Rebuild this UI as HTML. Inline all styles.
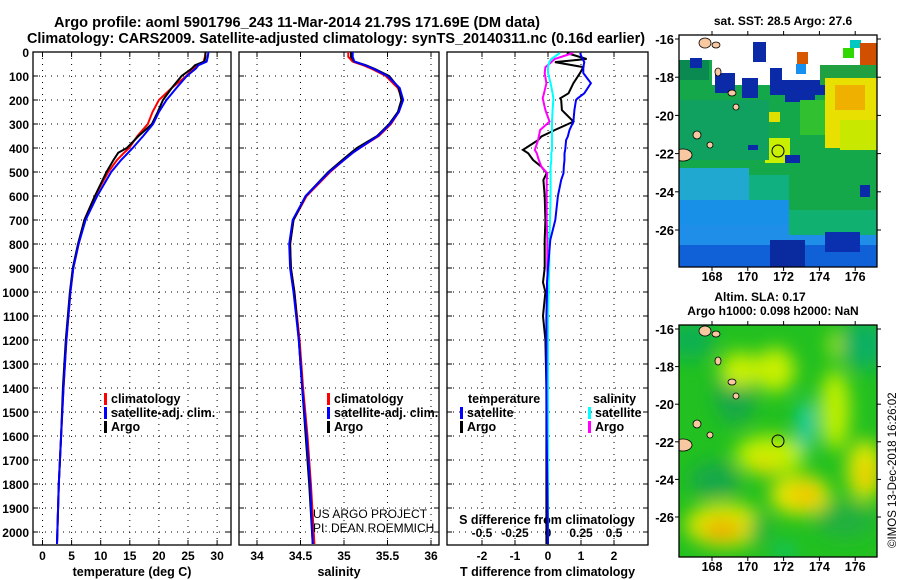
<!DOCTYPE html>
<html><head><meta charset="utf-8"><style>
body{margin:0;background:#fff}
svg{display:block;font-family:"Liberation Sans",sans-serif;font-weight:bold}
</style></head><body>
<svg id="chart" width="900" height="580" viewBox="0 0 900 580" xmlns="http://www.w3.org/2000/svg">
<defs>
<filter id="blur" x="-20%" y="-20%" width="140%" height="140%"><feGaussianBlur stdDeviation="9"/></filter>
<clipPath id="clipTop"><rect x="679" y="35" width="198" height="232"/></clipPath>
<clipPath id="clipBot"><rect x="679" y="325" width="198" height="232"/></clipPath>
<clipPath id="clipP1"><rect x="33" y="52" width="198" height="493"/></clipPath>
<clipPath id="clipP2"><rect x="239" y="52" width="200" height="493"/></clipPath>
<clipPath id="clipP3"><rect x="447" y="52" width="201" height="493"/></clipPath>
</defs>
<text x="54" y="27" font-size="14.5" textLength="486" lengthAdjust="spacingAndGlyphs">Argo profile: aoml 5901796_243 11-Mar-2014 21.79S 171.69E (DM data)</text>
<text x="27" y="43" font-size="14.5" textLength="618" lengthAdjust="spacingAndGlyphs">Climatology: CARS2009. Satellite-adjusted climatology: synTS_20140311.nc (0.16d earlier)</text>

<g id="maps">
<g clip-path="url(#clipTop)">
<rect x="679" y="35" width="198" height="232" fill="#14a84a"/>
<rect x="679" y="35" width="198" height="25" fill="#fff"/>
<rect x="712" y="35" width="165" height="50" fill="#fff"/>
<rect x="740" y="75" width="90" height="10" fill="#fff"/>
<rect x="679" y="60" width="30" height="20" fill="#0a8a50"/>
<rect x="690" y="58" width="12" height="10" fill="#0a2aa8"/>
<rect x="715" y="73" width="20" height="20" fill="#0a2aa8"/>
<rect x="742" y="78" width="16" height="20" fill="#0a2aa8"/>
<rect x="770" y="68" width="12" height="16" fill="#0a2aa8"/>
<rect x="770" y="80" width="65" height="15" fill="#0a2aa8"/>
<rect x="785" y="92" width="30" height="10" fill="#0a2aa8"/>
<rect x="753" y="42" width="13" height="20" fill="#0a2aa8"/>
<rect x="797" y="52" width="11" height="12" fill="#d85800"/>
<rect x="796" y="64" width="10" height="10" fill="#1890f0"/>
<rect x="843" y="48" width="11" height="10" fill="#30d800"/>
<rect x="850" y="40" width="11" height="8" fill="#00c8c0"/>
<rect x="860" y="43" width="17" height="25" fill="#d05000"/>
<rect x="820" y="65" width="57" height="20" fill="#20a040"/>
<rect x="825" y="78" width="52" height="70" fill="#e8e000"/>
<rect x="835" y="85" width="30" height="25" fill="#f0b000"/>
<rect x="840" y="120" width="37" height="30" fill="#c8e800"/>
<rect x="800" y="100" width="25" height="35" fill="#30c030"/>
<rect x="765" y="138" width="25" height="25" fill="#c8f000"/>
<rect x="765" y="112" width="15" height="10" fill="#e0e000"/>
<rect x="679" y="100" width="90" height="60" fill="#10a060"/>
<rect x="679" y="168" width="70" height="99" fill="#20a8d0"/>
<rect x="749" y="175" width="40" height="50" fill="#10b080"/>
<rect x="679" y="200" width="110" height="67" fill="#1890e8"/>
<rect x="679" y="225" width="198" height="42" fill="#1e8ee8"/>
<rect x="789" y="210" width="88" height="25" fill="#10b070"/>
<rect x="679" y="245" width="198" height="22" fill="#1060d8"/>
<rect x="770" y="240" width="35" height="27" fill="#0a2aa0"/>
<rect x="825" y="232" width="35" height="20" fill="#0a30b0"/>
<rect x="860" y="185" width="10" height="12" fill="#0a2aa8"/>
<rect x="748" y="145" width="10" height="5" fill="#0a2aa8"/>
<rect x="785" y="155" width="15" height="8" fill="#0a2aa8"/>
<ellipse cx="705" cy="43" rx="6" ry="5" fill="#f8c8a0" stroke="#000" stroke-width="0.8"/>
<ellipse cx="716" cy="45" rx="4" ry="3" fill="#f8c8a0" stroke="#000" stroke-width="0.8"/>
<ellipse cx="718" cy="72" rx="3" ry="4" fill="#f8c8a0" stroke="#000" stroke-width="0.8"/>
<ellipse cx="732" cy="93" rx="4" ry="3" fill="#f8c8a0" stroke="#000" stroke-width="0.8"/>
<ellipse cx="736" cy="107" rx="3" ry="3" fill="#f8c8a0" stroke="#000" stroke-width="0.8"/>
<ellipse cx="697" cy="135" rx="4" ry="4" fill="#f8c8a0" stroke="#000" stroke-width="0.8"/>
<ellipse cx="710" cy="145" rx="3" ry="3" fill="#f8c8a0" stroke="#000" stroke-width="0.8"/>
<ellipse cx="683" cy="155" rx="9" ry="6" fill="#f8c8a0" stroke="#000" stroke-width="0.8"/>
<circle cx="778" cy="151" r="6" fill="none" stroke="#000" stroke-width="1"/>
</g>
<rect x="679" y="35" width="198" height="232" fill="none" stroke="#000" stroke-width="1.3"/>
<text x="783" y="25" font-size="12" text-anchor="middle">sat. SST: 28.5 Argo: 27.6</text>

<g clip-path="url(#clipBot)">
<rect x="679" y="325" width="198" height="232" fill="#22c020"/>
<g filter="url(#blur)">
<ellipse cx="690" cy="340" rx="25" ry="20" fill="#10b050"/>
<ellipse cx="865" cy="345" rx="25" ry="25" fill="#10b060"/>
<ellipse cx="735" cy="395" rx="20" ry="30" fill="#18a848"/>
<ellipse cx="740" cy="370" rx="20" ry="18" fill="#c8f000"/>
<ellipse cx="775" cy="370" rx="20" ry="22" fill="#c8f000"/>
<ellipse cx="835" cy="410" rx="15" ry="40" fill="#c0f000"/>
<ellipse cx="835" cy="345" rx="6" ry="15" fill="#b0e800"/>
<ellipse cx="806" cy="425" rx="7" ry="25" fill="#10d0d0"/>
<ellipse cx="770" cy="455" rx="35" ry="20" fill="#c0f000"/>
<ellipse cx="765" cy="465" rx="15" ry="10" fill="#e0e000"/>
<ellipse cx="800" cy="495" rx="30" ry="20" fill="#e8e800"/>
<ellipse cx="805" cy="495" rx="15" ry="10" fill="#f0c000"/>
<ellipse cx="865" cy="470" rx="18" ry="30" fill="#e0e800"/>
<ellipse cx="867" cy="475" rx="8" ry="12" fill="#f0c000"/>
<ellipse cx="725" cy="525" rx="40" ry="22" fill="#d8e800"/>
<ellipse cx="722" cy="530" rx="20" ry="10" fill="#f0a800"/>
<ellipse cx="715" cy="480" rx="25" ry="18" fill="#18a848"/>
<ellipse cx="760" cy="530" rx="10" ry="15" fill="#20b040"/>
<ellipse cx="845" cy="520" rx="30" ry="18" fill="#20b040"/>
<ellipse cx="785" cy="552" rx="8" ry="6" fill="#10c8b0"/>
</g>
<ellipse cx="705" cy="331" rx="6" ry="5" fill="#f8c8a0" stroke="#000" stroke-width="0.8"/>
<ellipse cx="716" cy="334" rx="4" ry="3" fill="#f8c8a0" stroke="#000" stroke-width="0.8"/>
<ellipse cx="718" cy="361" rx="3" ry="4" fill="#f8c8a0" stroke="#000" stroke-width="0.8"/>
<ellipse cx="732" cy="382" rx="4" ry="3" fill="#f8c8a0" stroke="#000" stroke-width="0.8"/>
<ellipse cx="736" cy="396" rx="3" ry="3" fill="#f8c8a0" stroke="#000" stroke-width="0.8"/>
<ellipse cx="697" cy="424" rx="4" ry="4" fill="#f8c8a0" stroke="#000" stroke-width="0.8"/>
<ellipse cx="710" cy="435" rx="3" ry="3" fill="#f8c8a0" stroke="#000" stroke-width="0.8"/>
<ellipse cx="683" cy="445" rx="9" ry="6" fill="#f8c8a0" stroke="#000" stroke-width="0.8"/>
<circle cx="778" cy="441" r="6" fill="none" stroke="#000" stroke-width="1"/>
</g>
<rect x="679" y="325" width="198" height="232" fill="none" stroke="#000" stroke-width="1.3"/>
<text x="760" y="301" font-size="12" text-anchor="middle">Altim. SLA: 0.17</text>
<text x="773" y="315" font-size="12" text-anchor="middle">Argo h1000: 0.098 h2000: NaN</text>
<text transform="translate(896,548) rotate(-90)" font-size="11.5" font-weight="normal">©IMOS 13-Dec-2018 16:26:02</text>
</g>
<g id="dyn"></g>
</svg>
<script>
// ---------- data ----------
const depthTicks=[0,100,200,300,400,500,600,700,800,900,1000,1100,1200,1300,1400,1500,1600,1700,1800,1900,2000];
const tempTicks=[0,5,10,15,20,25,30];
const salTicks=[34,34.5,35,35.5,36];
const tdiffTicks=[-2,-1,0,1,2];
const sdiffTicks=[-0.5,-0.25,0,0.25,0.5];
const sdiffTickLabels=["-0.5","-0.25","0","0.25","0.5"];
const latTicks=[-16,-18,-20,-22,-24,-26];
const lonTicks=[168,170,172,174,176];

const profDepth=[0,20,40,55,70,100,150,200,250,300,350,400,420,450,500,600,700,800,900,1000,1200,1400,1600,1800,2050];
const argoTemp=[28.0,28.0,27.8,26.2,25.6,23.9,22.2,20.7,19.8,18.8,16.5,14.5,13.0,12.2,11.0,9.0,7.2,6.1,5.2,4.7,4.0,3.5,3.2,2.8,2.5];
const climTemp=[28.0,27.9,27.7,26.5,25.9,24.7,22.2,20.0,18.9,18.1,16.3,14.9,14.0,12.8,11.3,9.0,7.2,6.2,5.3,4.8,4.1,3.6,3.2,2.8,2.5];
const satTemp=[28.5,28.4,28.2,26.8,26.3,24.8,23.0,21.3,20.0,19.0,17.3,15.5,14.7,13.5,11.8,9.4,7.4,6.2,5.3,4.8,4.1,3.6,3.2,2.8,2.5];
const argoSal=[35.08,35.08,35.12,35.25,35.35,35.52,35.63,35.66,35.62,35.52,35.38,35.15,35.08,34.98,34.82,34.56,34.42,34.38,34.39,34.43,34.48,34.52,34.56,34.60,34.64];
const climSal=[35.05,35.05,35.10,35.22,35.32,35.48,35.62,35.67,35.63,35.54,35.40,35.18,35.10,35.00,34.84,34.57,34.42,34.38,34.39,34.43,34.49,34.53,34.58,34.62,34.66];
const satSal=[35.10,35.10,35.12,35.24,35.34,35.50,35.64,35.68,35.63,35.53,35.39,35.18,35.10,35.00,34.83,34.56,34.41,34.37,34.38,34.42,34.48,34.52,34.57,34.61,34.64];

const diffDepth=[4,29,42,63,88,130,172,193,200,242,290,325,352,367,408,422,450,478,505,533,600,700,783,900,960,1000,1100,1200,1400,1600,1800,2050];
const satTdiff=[0.97,1.05,1.1,1.07,1.07,1.3,1.1,0.9,0.85,0.8,0.77,0.65,0.6,0.55,0.52,0.5,0.5,0.48,0.47,0.4,0.3,0.22,0.07,0.0,-0.03,-0.03,-0.05,-0.05,-0.05,-0.04,-0.02,0.0];
const argoTdiff=[0.57,1.17,0.21,1.07,0.97,0.77,0.62,0.37,0.40,0.42,0.77,0.21,-0.2,-0.3,-0.76,-0.6,-0.45,-0.2,-0.04,-0.14,-0.1,-0.08,-0.1,-0.1,-0.15,-0.08,-0.15,-0.08,-0.05,-0.05,-0.05,-0.05];
const satSdiff=[0.09,0.025,0.01,0.0,0.0,0.02,0.035,0.04,0.04,0.035,0.03,0.03,0.03,0.03,0.03,0.025,0.025,0.02,0.02,0.02,0.02,0.015,0.01,0.01,0.005,0.005,0.0,0.0,0.0,0.0,0.0,0.0];
const argoSdiff=[0.19,0.05,0.025,-0.02,-0.025,-0.012,-0.03,-0.04,-0.037,-0.02,0.012,-0.06,-0.07,-0.075,-0.1,-0.085,-0.07,-0.05,-0.005,-0.01,-0.01,-0.01,-0.005,-0.005,0.0,0.0,0.0,0.0,0.0,0.0,0.0,0.0];

// ---------- scales ----------
const yD=d=>52+d*0.24;
const xT=t=>42.5+t*5.82;
const xS=s=>257+(s-34)*87;
const xTD=v=>548+v*33;
const xSD=v=>548+v*132;
const NS='http://www.w3.org/2000/svg';
const root=document.getElementById('dyn');
function mk(tag,attrs,parent){const e=document.createElementNS(NS,tag);for(const k in attrs)e.setAttribute(k,attrs[k]);(parent||root).appendChild(e);return e;}

const panels=[
 {x0:33,x1:231,ticks:tempTicks,sx:xT,labels:tempTicks.map(String),title:'temperature (deg C)',name:'temperature-panel'},
 {x0:239,x1:439,ticks:salTicks,sx:xS,labels:salTicks.map(String),title:'salinity',name:'salinity-panel'},
 {x0:447,x1:648,ticks:tdiffTicks,sx:xTD,labels:tdiffTicks.map(String),title:'T difference from climatology',name:'difference-panel'}
];
const yTop=52,yBot=545;
panels.forEach((p,i)=>{
  const g=mk('g',{});
  
  
  p.ticks.forEach((t,j)=>{
    const x=p.sx(t);
    const gl=mk('line',{x1:x,x2:x,y1:yTop,y2:yBot,stroke:'#000','stroke-width':1,'stroke-dasharray':'1 5'},g);
    
    
    mk('line',{x1:x,x2:x,y1:yTop,y2:yTop+5,stroke:'#000'},g);
    mk('line',{x1:x,x2:x,y1:yBot,y2:yBot-5,stroke:'#000'},g);
    const tl=mk('text',{x:x,y:560,'font-size':12,'text-anchor':'middle'},g);
    tl.textContent=p.labels[j];
    
    
  });
  depthTicks.forEach(d=>{
    const y=yD(d);
    const gl=mk('line',{x1:p.x0,x2:p.x1,y1:y,y2:y,stroke:'#000','stroke-width':1,'stroke-dasharray':'1 5'},g);
    
    
    mk('line',{x1:p.x0,x2:p.x0+5,y1:y,y2:y,stroke:'#000'},g);
    mk('line',{x1:p.x1,x2:p.x1-5,y1:y,y2:y,stroke:'#000'},g);
  });
  const fr=mk('rect',{x:p.x0,y:yTop,width:p.x1-p.x0,height:yBot-yTop,fill:'none',stroke:'#000','stroke-width':1.3},g);
  
  
  const tt=mk('text',{x:(p.x0+p.x1)/2,y:576,'font-size':12.5,'text-anchor':'middle'},g);
  tt.textContent=p.title;
  
  
});
depthTicks.forEach(d=>{
  const t=mk('text',{x:29,y:yD(d)+5,'font-size':12,'text-anchor':'end'});
  t.textContent=String(d);
  
  
});
sdiffTicks.forEach((v,j)=>{
  const t=mk('text',{x:xSD(v),y:537,'font-size':12,'text-anchor':'middle'});
  t.textContent=sdiffTickLabels[j];
  
  
});
{const t=mk('text',{x:547,y:524,'font-size':12.5,'text-anchor':'middle'});t.textContent='S difference from climatology';

}

function line(xs,ys,sx,color,w,clip,name){
  const pts=xs.map((v,i)=>sx(v).toFixed(1)+','+yD(ys[i]).toFixed(1)).join(' ');
  const e=mk('polyline',{points:pts,fill:'none',stroke:color,'stroke-width':w,'clip-path':clip,'stroke-linejoin':'miter'});
  
  
}
line(climTemp,profDepth,xT,'#f00',2,'url(#clipP1)','temp-climatology-line');
line(argoTemp,profDepth,xT,'#000',2,'url(#clipP1)','temp-argo-line');
line(satTemp,profDepth,xT,'#00f',2,'url(#clipP1)','temp-satellite-line');
line(climSal,profDepth,xS,'#f00',2,'url(#clipP2)','sal-climatology-line');
line(argoSal,profDepth,xS,'#000',2,'url(#clipP2)','sal-argo-line');
line(satSal,profDepth,xS,'#00f',2,'url(#clipP2)','sal-satellite-line');
line(argoTdiff,diffDepth,xTD,'#000',2,'url(#clipP3)','tdiff-argo-line');
line(argoSdiff,diffDepth,xSD,'#f0f',2,'url(#clipP3)','sdiff-argo-line');
line(satSdiff,diffDepth,xSD,'#0ff',2,'url(#clipP3)','sdiff-satellite-line');
line(satTdiff,diffDepth,xTD,'#00f',2,'url(#clipP3)','tdiff-satellite-line');

function legend(x,y,items,name){
  items.forEach((it,i)=>{
    const yy=y+i*14;
    const b=mk('rect',{x:x,y:yy-10,width:3,height:12,fill:it[1]});
    
    
    const t=mk('text',{x:x+7,y:yy,'font-size':12.5});
    t.textContent=it[0];
    
    
  });
}
legend(104,403,[['climatology','#f00'],['satellite-adj. clim.','#00f'],['Argo','#000']],'temp-legend');
legend(327,403,[['climatology','#f00'],['satellite-adj. clim.','#00f'],['Argo','#000']],'sal-legend');
{const t=mk('text',{x:468,y:403,'font-size':12.5});t.textContent='temperature';


const t2=mk('text',{x:593,y:403,'font-size':12.5});t2.textContent='salinity';

}
legend(460,417,[['satellite','#00f'],['Argo','#000']],'tdiff-legend');
legend(588,417,[['satellite','#0ff'],['Argo','#f0f']],'sdiff-legend');
{const a=mk('text',{x:313,y:518,'font-size':12,'font-weight':'normal'});a.textContent='US ARGO PROJECT';


const b=mk('text',{x:313,y:532,'font-size':12,'font-weight':'normal'});b.textContent='PI: DEAN ROEMMICH';

}

// map axes: latitude labels on the left, ticks on both sides
const maps=[{top:35,bot:267,lat0:39,pxLat:19.1,lonY:281,name:'sst-map'},{top:325,bot:557,lat0:329,pxLat:18.8,lonY:571,name:'sla-map'}];
const xLon=l=>712+(l-168)*17.9;
maps.forEach(m=>{
  latTicks.forEach(l=>{
    const y=m.lat0+(-16-l)*m.pxLat;
    mk('line',{x1:877,x2:881,y1:y,y2:y,stroke:'#000'});
    mk('line',{x1:679,x2:675,y1:y,y2:y,stroke:'#000'});
    const t=mk('text',{x:674,y:y+5,'font-size':13,'text-anchor':'end'});
    t.textContent=String(l);
    
    
  });
  lonTicks.forEach(l=>{
    const x=xLon(l);
    mk('line',{x1:x,x2:x,y1:m.bot,y2:m.bot+4,stroke:'#000'});
    mk('line',{x1:x,x2:x,y1:m.top,y2:m.top-4,stroke:'#000'});
    const t=mk('text',{x:x,y:m.lonY,'font-size':12.5,'text-anchor':'middle'});
    t.textContent=String(l);
    
    
  });
});
</script>
</body></html>
